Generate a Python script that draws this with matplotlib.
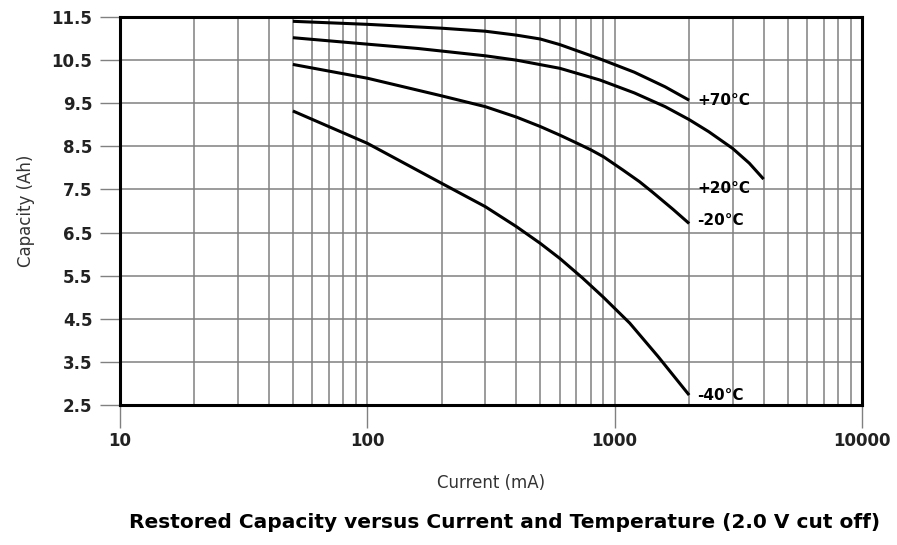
import matplotlib
matplotlib.use("Agg")
import matplotlib.pyplot as plt
from matplotlib.ticker import FixedLocator, LogLocator, NullFormatter

# discharge current (mA) and restored capacity (Ah) per temperature
current_p70 = [50, 100, 200, 300, 400, 500, 600, 870, 1200, 1600, 2000]
capacity_p70 = [11.40, 11.33, 11.24, 11.17, 11.08, 10.99, 10.86, 10.53, 10.22, 9.88, 9.57]

current_p20 = [50, 100, 160, 200, 300, 400, 600, 870, 1200, 1600, 2000, 2400, 3000, 3500, 4000]
capacity_p20 = [11.02, 10.87, 10.77, 10.71, 10.60, 10.50, 10.31, 10.04, 9.74, 9.42, 9.12,
                8.84, 8.45, 8.11, 7.74]

current_m20 = [50, 100, 200, 300, 400, 500, 600, 700, 800, 900, 1080, 1260, 1420, 1720, 2000]
capacity_m20 = [10.40, 10.08, 9.67, 9.42, 9.18, 8.96, 8.76, 8.58, 8.42, 8.26, 7.95, 7.68,
                7.44, 7.04, 6.71]

current_m40 = [50, 100, 200, 300, 400, 500, 600, 740, 900, 1150, 1500, 2000]
capacity_m40 = [9.32, 8.57, 7.64, 7.10, 6.64, 6.25, 5.90, 5.45, 5.00, 4.40, 3.62, 2.73]

labels = ["+70°C", "+20°C", "-20°C", "-40°C"]
label_pos = [(2150, 9.57), (2150, 7.53), (2150, 6.77), (2150, 2.73)]

y_ticks = [2.5, 3.5, 4.5, 5.5, 6.5, 7.5, 8.5, 9.5, 10.5, 11.5]
x_ticks = [10, 100, 1000, 10000]

fig = plt.figure(figsize=(8.97, 5.45), dpi=100)
ax = fig.add_axes([0.1338, 0.2569, 0.961 - 0.1338, 0.9688 - 0.2569])

ax.set_xscale("log")
ax.set_xlim(10, 10000)
ax.set_ylim(2.5, 11.5)

ax.xaxis.set_major_locator(FixedLocator(x_ticks))
ax.xaxis.set_minor_locator(LogLocator(base=10, subs=range(2, 10)))
ax.xaxis.set_minor_formatter(NullFormatter())
ax.set_xticklabels([str(t) for t in x_ticks])
ax.set_yticks(y_ticks)
ax.set_yticklabels([f"{t:.1f}" for t in y_ticks])

grid_color = "#808080"
ax.grid(True, which="both", axis="x", color=grid_color, linewidth=1.1)
ax.grid(True, which="major", axis="y", color=grid_color, linewidth=1.1)
ax.set_axisbelow(True)

ax.tick_params(axis="y", which="major", length=14.4, width=1.0, color=grid_color,
               pad=5.5, labelsize=12, labelcolor="#222222")
ax.tick_params(axis="x", which="major", length=16.5, width=1.0, color=grid_color,
               pad=3, labelsize=12, labelcolor="#222222")
ax.tick_params(axis="x", which="minor", length=0)
for lbl in ax.get_xticklabels() + ax.get_yticklabels():
    lbl.set_fontweight("bold")

for spine in ax.spines.values():
    spine.set_linewidth(2.2)
    spine.set_color("black")

series = [
    (current_p70, capacity_p70),
    (current_p20, capacity_p20),
    (current_m20, capacity_m20),
    (current_m40, capacity_m40),
]
for x, y in series:
    ax.plot(x, y, color="black", linewidth=2.2, solid_capstyle="butt",
            solid_joinstyle="round")

for text, (x, y) in zip(labels, label_pos):
    ax.text(x, y, text, fontsize=11, fontweight="bold", va="center", ha="left",
            color="black")

ax.set_ylabel("Capacity (Ah)", fontsize=12, color="#333333", labelpad=12)
ax.set_xlabel("Current (mA)", fontsize=12, color="#333333", labelpad=17)

fig.text(0.563, 0.042, "Restored Capacity versus Current and Temperature (2.0 V cut off)",
         ha="center", va="center", fontsize=14.5, fontweight="bold", color="black")

fig.savefig("out.png", dpi=100)
